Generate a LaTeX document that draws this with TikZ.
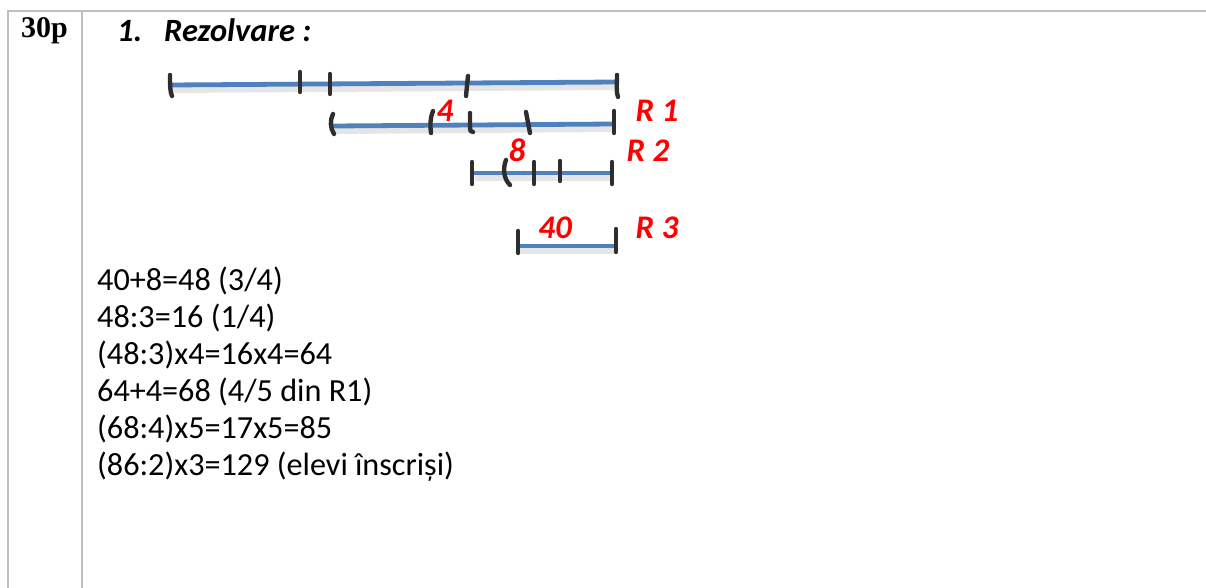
\documentclass[tikz,border=0pt]{standalone}
\usepackage{fontspec}
\setmainfont{Carlito}
\newfontfamily\serifb{Liberation Serif}
\definecolor{gridgray}{HTML}{BFBFBF}
\definecolor{barblue}{HTML}{4F81BD}
\definecolor{tickgray}{HTML}{2E2E2E}
\definecolor{lblred}{HTML}{FF0000}
\tikzset{
  frame/.style={draw=gridgray, line width=1.6pt},
  bar/.style={draw=barblue, line width=4.8pt},
  barshadow/.style={draw=black, opacity=0.10, line width=8pt},
  tick/.style={draw=tickgray, line width=4.4pt, line cap=round},
  lbl/.style={text=lblred, font=\fontsize{33}{38}\selectfont\bfseries\itshape, inner sep=0pt},
  calc/.style={anchor=base west, inner sep=0pt, font=\fontsize{32.2}{38}\selectfont},
}
\begin{document}
\begin{tikzpicture}[x=1pt,y=-1pt]
\useasboundingbox (0,0) rectangle (1206,588);
% table frame
\draw[frame] (8,588) -- (8,11) -- (1206,11);
\draw[frame] (82,11) -- (82,588);
% header
\node[anchor=base west, inner sep=0pt, font=\serifb\fontsize{30}{34}\selectfont\bfseries] (pts) at (21,38) {30p};
\node[anchor=base west, inner sep=0pt, font=\fontsize{32.5}{38}\selectfont\bfseries\itshape] (num) at (117,42) {1.};
\node[anchor=base west, inner sep=0pt, font=\fontsize{32.5}{38}\selectfont\bfseries\itshape] (title) at (164,42) {Rezolvare :};
% shadows
\draw[barshadow] (172,89) -- (617,86);
\draw[barshadow] (335,130) -- (614,128);
\draw[barshadow] (475,177) -- (612,177);
\draw[barshadow] (518,250) -- (615,250);
% bars
\draw[bar] (170,85) -- (617,82);
\draw[bar] (333,126) -- (614,124);
\draw[bar] (473,173) -- (612,173);
\draw[bar] (516,246) -- (615,246);
% ticks bar 1
\draw[tick] (170,75) .. controls (170,85) and (170,92) .. (172,96);
\draw[tick] (300,72) -- (300,92);
\draw[tick] (330,74) -- (330,94);
\draw[tick] (468,76) -- (466,96);
\draw[tick] (617,75) .. controls (617,85) and (616,92) .. (618,97);
% ticks bar 2
\draw[tick] (333,114) .. controls (330,120) and (330,128) .. (334,134);
\draw[tick] (433,111) .. controls (430,118) and (430,126) .. (431,133);
\draw[tick] (470,113) -- (470,127) .. controls (470,131) and (471,132) .. (473,132);
\draw[tick] (526,112) -- (530,133);
\draw[tick] (614,111) -- (614,133);
% ticks bar 3
\draw[tick] (472,162) -- (472,184);
\draw[tick] (506,160) .. controls (503,168) and (503,178) .. (510,185);
\draw[tick] (534,162) -- (534,184);
\draw[tick] (560,161) -- (560,181);
\draw[tick] (612,162) -- (612,184);
% ticks bar 4
\draw[tick] (518,231) -- (518,253);
\draw[tick] (616,229) -- (616,252);
% red labels
\node[lbl] (l4) at (445,111) {4};
\node[lbl] (r1) at (657,111) {R 1};
\node[lbl] (l8) at (517,150) {8};
\node[lbl] (r2) at (648,151) {R 2};
\node[lbl] (l40) at (555,228) {40};
\node[lbl] (r3) at (657,228) {R 3};
% calculations
\node[calc] (c1) at (97,290) {40+8=48 (3/4)};
\node[calc] (c2) at (97,327) {48:3=16 (1/4)};
\node[calc] (c3) at (97,364) {(48:3)x4=16x4=64};
\node[calc] (c4) at (97,401) {64+4=68 (4/5 din R1)};
\node[calc] (c5) at (97,438) {(68:4)x5=17x5=85};
\node[calc] (c6) at (97,475) {(86:2)x3=129 (elevi înscriși)};
\end{tikzpicture}
\end{document}
